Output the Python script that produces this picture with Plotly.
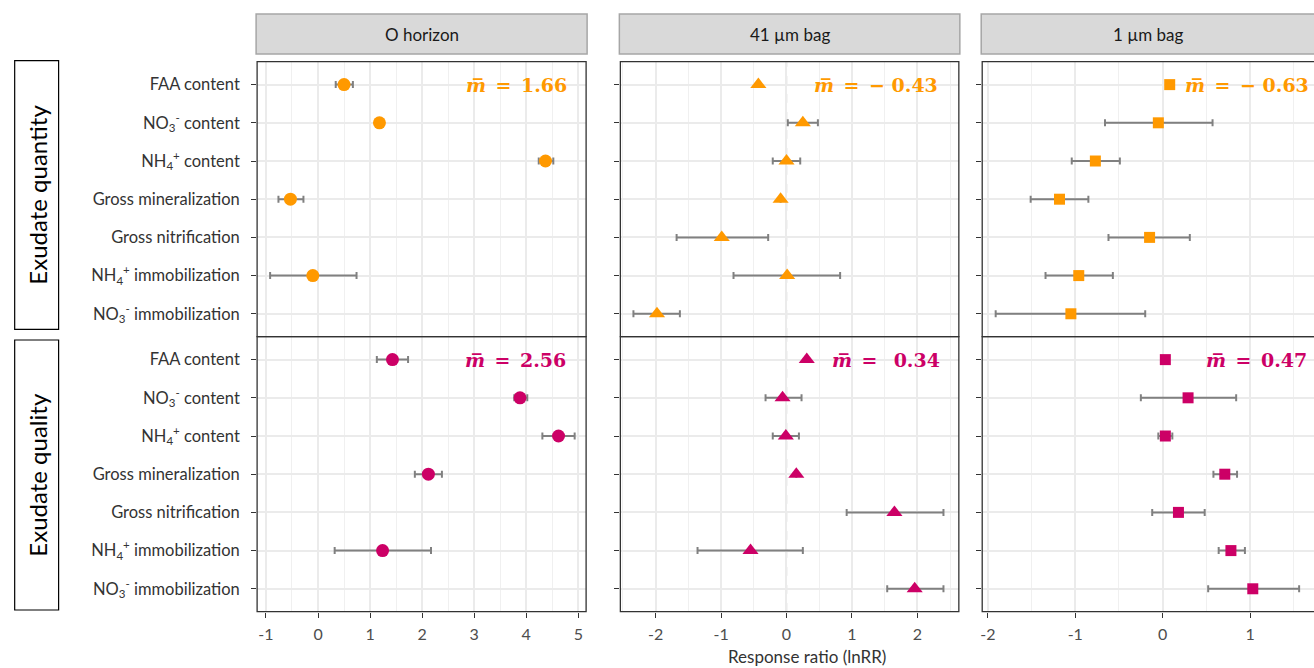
import plotly.graph_objects as go

# ---- data -------------------------------------------------------------
variables = [
    "FAA content",
    "NO<sub>3</sub><sup>-</sup> content",
    "NH<sub>4</sub><sup>+</sup> content",
    "Gross mineralization",
    "Gross nitrification",
    "NH<sub>4</sub><sup>+</sup> immobilization",
    "NO<sub>3</sub><sup>-</sup> immobilization",
]
compartments = ["O horizon", "41 µm bag", "1 µm bag"]
treatments = ["Exudate quantity", "Exudate quality"]

# mean lnRR with lower / upper limits, per compartment and treatment
o_quantity_mean = [0.50, 1.18, 4.37, -0.53, None, -0.10, None]
o_quantity_lo = [0.34, 1.18, 4.24, -0.76, None, -0.92, None]
o_quantity_hi = [0.67, 1.18, 4.52, -0.28, None, 0.74, None]

o_quality_mean = [1.43, 3.88, 4.62, 2.12, None, 1.24, None]
o_quality_lo = [1.13, 3.77, 4.31, 1.86, None, 0.32, None]
o_quality_hi = [1.73, 4.02, 4.93, 2.38, None, 2.17, None]

b41_quantity_mean = [-0.43, 0.25, 0.00, -0.09, -0.99, 0.01, -1.98]
b41_quantity_lo = [-0.43, 0.02, -0.21, -0.09, -1.68, -0.81, -2.34]
b41_quantity_hi = [-0.43, 0.48, 0.21, -0.09, -0.28, 0.82, -1.63]

b41_quality_mean = [0.31, -0.06, -0.01, 0.15, 1.65, -0.55, 1.96]
b41_quality_lo = [0.31, -0.32, -0.21, 0.15, 0.92, -1.36, 1.54]
b41_quality_hi = [0.31, 0.23, 0.19, 0.15, 2.40, 0.25, 2.40]

b1_quantity_mean = [0.08, -0.05, -0.77, -1.18, -0.15, -0.96, -1.05]
b1_quantity_lo = [0.08, -0.66, -1.04, -1.51, -0.62, -1.34, -1.91]
b1_quantity_hi = [0.08, 0.57, -0.49, -0.85, 0.31, -0.57, -0.20]

b1_quality_mean = [0.03, 0.29, 0.03, 0.71, 0.18, 0.78, 1.03]
b1_quality_lo = [0.03, -0.25, -0.05, 0.58, -0.12, 0.64, 0.52]
b1_quality_hi = [0.03, 0.84, 0.11, 0.85, 0.48, 0.94, 1.56]

# overall mean effect printed in each panel
mean_labels = [
    ["1.66", "− 0.43", "− 0.63"],
    ["2.56", " 0.34", "0.47"],
]

# ---- styling ------------------------------------------------------------
W, H = 1314, 668
col_px = [(255.5, 585.0), (619.3, 958.3), (981.7, 1315.5)]
row_px = [(61.7, 336.7), (336.7, 611.7)]
x_ranges = [(-1.17, 5.15), (-2.54, 2.635), (-2.064, 1.73)]
x_ticks = [[-1, 0, 1, 2, 3, 4, 5], [-2, -1, 0, 1, 2], [-2, -1, 0, 1]]
label_right = [[4.83, 2.34, 1.70], [4.81, 2.37, 1.67]]
symbols = ["circle", "triangle-up", "square"]
sizes = [13, 14, 11]
colors = ["#FF9900", "#CC0066"]
FONT = "Lato"

series = [
    [(o_quantity_mean, o_quantity_lo, o_quantity_hi),
     (b41_quantity_mean, b41_quantity_lo, b41_quantity_hi),
     (b1_quantity_mean, b1_quantity_lo, b1_quantity_hi)],
    [(o_quality_mean, o_quality_lo, o_quality_hi),
     (b41_quality_mean, b41_quality_lo, b41_quality_hi),
     (b1_quality_mean, b1_quality_lo, b1_quality_hi)],
]


def px_x(v):
    return v / W


def px_y(v):
    return 1 - v / H


fig = go.Figure()
layout = {}
shapes = []
annotations = []
ypos = list(range(1, len(variables) + 1))
SP = "\u2002"

for r in range(2):
    for c in range(3):
        idx = r * 3 + c + 1
        sfx = "" if idx == 1 else str(idx)
        xa, ya = "x" + sfx, "y" + sfx
        mean, lo, hi = series[r][c]
        plus = [None if m is None else h - m for m, h in zip(mean, hi)]
        minus = [None if m is None else m - l for m, l in zip(mean, lo)]

        # zero reference line
        shapes.append(dict(type="line", xref=xa, yref=ya + " domain",
                           x0=0, x1=0, y0=0, y1=1, layer="below",
                           line=dict(color="black", width=1.1, dash="dash")))

        fig.add_trace(go.Scatter(
            x=mean, y=ypos, mode="markers", xaxis=xa, yaxis=ya,
            marker=dict(symbol=symbols[c], size=sizes[c], color=colors[r],
                        line=dict(width=0)),
            error_x=dict(type="data", symmetric=False, array=plus,
                         arrayminus=minus, color="#808080",
                         thickness=2, width=3.5),
            showlegend=False, cliponaxis=False,
        ))

        x0, x1 = col_px[c]
        y0, y1 = row_px[r]
        layout["xaxis" + sfx] = dict(
            domain=[px_x(x0), min(1.0, px_x(x1))],
            anchor=ya, range=list(x_ranges[c]),
            tickvals=x_ticks[c], ticktext=[str(t) for t in x_ticks[c]],
            showticklabels=(r == 1), ticks="outside" if r == 1 else "",
            ticklen=5, tickcolor="#333333", tickwidth=1,
            ticklabelstandoff=3,
            tickfont=dict(family=FONT, size=16, color="#4d4d4d"),
            showgrid=True, gridcolor="#EBEBEB", gridwidth=1.5,
            minor=dict(dtick=0.5, tick0=0, showgrid=True,
                       gridcolor="#F0F0F0", gridwidth=1),
            zeroline=False, showline=False, fixedrange=True,
        )
        layout["yaxis" + sfx] = dict(
            domain=[px_y(y1), px_y(y0)], anchor=xa,
            range=[7.6, 0.4], tickvals=ypos, ticktext=variables,
            showticklabels=(c == 0), ticks="outside", ticklen=5,
            tickcolor="#333333", tickwidth=1, ticklabelstandoff=8,
            tickfont=dict(family=FONT, size=16.5, color="#333333"),
            showgrid=True, gridcolor="#EBEBEB", gridwidth=1.8,
            zeroline=False, showline=False, fixedrange=True,
        )

        # panel border
        shapes.append(dict(type="rect", xref="paper", yref="paper",
                           x0=px_x(x0), x1=px_x(x1), y0=px_y(y1), y1=px_y(y0),
                           line=dict(color="#333333", width=1.3),
                           fillcolor="rgba(0,0,0,0)", layer="above"))

        # overall mean label
        annotations.append(dict(
            xref=xa, yref=ya, x=label_right[r][c], y=1, xanchor="right",
            yanchor="middle", showarrow=False,
            text="<b><i>m\u0305</i>" + SP + "=" + SP + mean_labels[r][c] + "</b>",
            font=dict(family="DejaVu Serif", size=19, color=colors[r]),
        ))

# column strips
for c, name in enumerate(compartments):
    x0, x1 = col_px[c]
    shapes.append(dict(type="rect", xref="paper", yref="paper",
                       x0=px_x(x0 - 1), x1=px_x(x1 + 1), y0=px_y(54), y1=px_y(14),
                       line=dict(color="#A6A6A6", width=1.5),
                       fillcolor="#D9D9D9", layer="below"))
    annotations.append(dict(xref="paper", yref="paper",
                            x=px_x((x0 + min(x1, 1314)) / 2), y=px_y(34),
                            text=name, showarrow=False,
                            xanchor="center", yanchor="middle",
                            font=dict(family=FONT, size=17, color="#1a1a1a")))

# row labels
row_boxes = [(60.7, 329.3), (340.0, 610.0)]
for r, name in enumerate(treatments):
    b0, b1 = row_boxes[r]
    shapes.append(dict(type="rect", xref="paper", yref="paper",
                       x0=px_x(12.7), x1=px_x(56.7), y0=px_y(b1), y1=px_y(b0),
                       line=dict(color="black", width=1.2),
                       fillcolor="white", layer="below"))
    annotations.append(dict(xref="paper", yref="paper",
                            x=px_x(34.7), y=px_y((b0 + b1) / 2),
                            text=name, textangle=-90, showarrow=False,
                            xanchor="center", yanchor="middle",
                            font=dict(family=FONT, size=24, color="black")))

# shared x-axis title
annotations.append(dict(xref="paper", yref="paper", x=px_x(806), y=px_y(656),
                        text="Response ratio (lnRR)", showarrow=False,
                        xanchor="center", yanchor="middle",
                        font=dict(family=FONT, size=17, color="#333333")))

fig.update_layout(
    width=W, height=H, margin=dict(l=0, r=0, t=0, b=0),
    paper_bgcolor="white", plot_bgcolor="white",
    shapes=shapes, annotations=annotations, **layout,
)

fig.write_html("out.html")
